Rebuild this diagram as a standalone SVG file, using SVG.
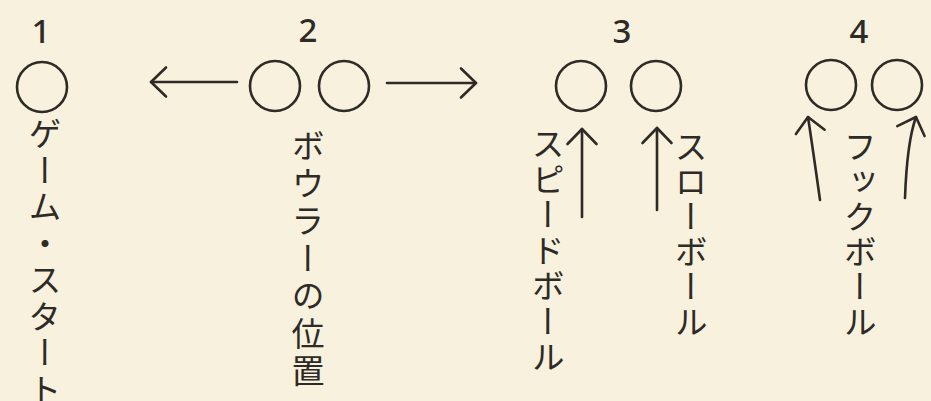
<svg xmlns="http://www.w3.org/2000/svg" width="931" height="401" viewBox="0 0 931 401">
  <style>
    .bg { fill: #f8f1de; }
    .num { font-family: "Noto Sans", "DejaVu Sans", sans-serif; font-size: 33px; font-weight: 500; fill: #2e2a26; text-anchor: middle; }
    .lbl { font-family: "Noto Sans CJK JP", sans-serif; font-size: 33px; fill: #2e2a26; writing-mode: vertical-rl; }
    .ball { fill: none; stroke: #2e2a26; stroke-width: 2.6; }
    .conn path { fill: none; stroke: #2e2a26; stroke-width: 2.6; stroke-linecap: round; }
  </style>
  <defs>
    <marker id="ah" markerUnits="userSpaceOnUse" viewBox="-20 -18 24 36" refX="0" refY="0" markerWidth="24" markerHeight="36" orient="auto">
      <path d="M-15,-14.5 L0,0 L-15,14.5" fill="none" stroke="#2e2a26" stroke-width="2.6" stroke-linecap="round" stroke-linejoin="round"/>
    </marker>
  </defs>
  <rect class="bg" x="0" y="0" width="931" height="401"/>

  <g id="step1">
    <text class="num" x="41" y="43">1</text>
    <circle class="ball" cx="42" cy="87" r="25"/>
    <text class="lbl" x="45" y="117" letter-spacing="3.5">ゲーム・スタート</text>
  </g>

  <g id="step2">
    <text class="num" x="308" y="42">2</text>
    <circle class="ball" cx="275" cy="86" r="25"/>
    <circle class="ball" cx="344" cy="86" r="25"/>
    <text class="lbl" x="308" y="129" letter-spacing="4.5">ボウラーの位置</text>
  </g>

  <g id="step3">
    <text class="num" x="622" y="43">3</text>
    <circle class="ball" cx="581" cy="86" r="25"/>
    <circle class="ball" cx="656" cy="86" r="25"/>
    <text class="lbl" x="548" y="127" letter-spacing="2.5">スピードボール</text>
    <text class="lbl" x="691" y="130" letter-spacing="2">スローボール</text>
  </g>

  <g id="step4">
    <text class="num" x="859" y="43">4</text>
    <circle class="ball" cx="831" cy="85" r="25"/>
    <circle class="ball" cx="897" cy="85" r="25"/>
    <text class="lbl" x="860" y="130" letter-spacing="2">フックボール</text>
  </g>

  <g id="connectors" class="conn">
    <path d="M237,82 L151,82" marker-end="url(#ah)"/>
    <path d="M387,83 L476,83" marker-end="url(#ah)"/>
    <path d="M582,217 L582,129" marker-end="url(#ah)"/>
    <path d="M657,210 L657,128" marker-end="url(#ah)"/>
    <path d="M820,200 Q813,150 808,117" marker-end="url(#ah)"/>
    <path d="M905,198 Q907,142 916,117" marker-end="url(#ah)"/>
  </g>
</svg>
